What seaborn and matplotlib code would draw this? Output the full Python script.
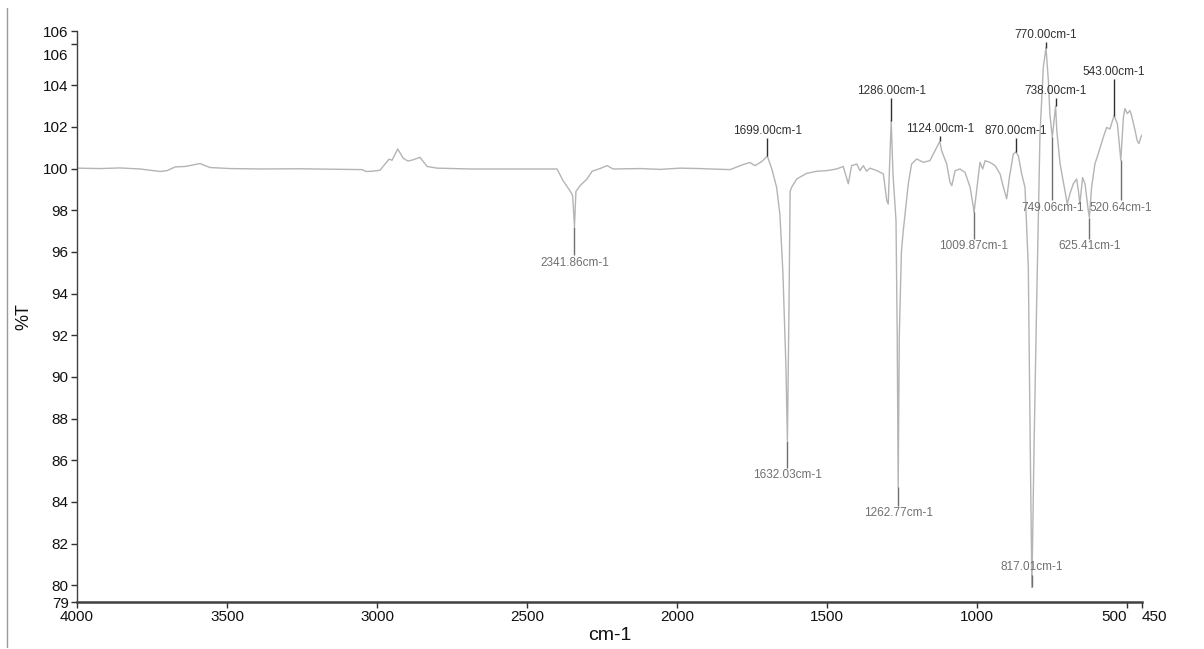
# FTIR spectrum, %T vs wavenumber, with peak picks
import matplotlib
matplotlib.use("Agg")
import matplotlib.pyplot as plt
from matplotlib.lines import Line2D
from matplotlib.transforms import ScaledTranslation
import seaborn as sns
import numpy as np

# spectrum (cm-1, %T)
wavenumber = [4000, 3923, 3857, 3790, 3747, 3723, 3700, 3673, 3640, 3590, 3557, 3490,
              3390, 3257, 3157, 3050, 3037, 3017, 2990, 2980, 2960, 2950, 2931, 2913,
              2897, 2880, 2857, 2833, 2800, 2690, 2557, 2400, 2380, 2357, 2348, 2341.86,
              2337, 2323, 2300, 2283, 2257, 2233, 2213, 2123, 2057, 1990, 1923, 1890,
              1823, 1780, 1757, 1740, 1717, 1699, 1684, 1668, 1657, 1647, 1637, 1632.03,
              1627, 1623, 1618, 1601, 1568, 1534, 1501, 1468, 1446, 1429, 1418, 1401,
              1390, 1379, 1368, 1357, 1334, 1312, 1301, 1296, 1286, 1280, 1270, 1266,
              1262.77, 1259, 1252, 1246, 1229, 1218, 1201, 1179, 1157, 1140, 1124, 1118,
              1101, 1090, 1084, 1073, 1057, 1040, 1023, 1012, 1009.87, 996, 990, 981,
              973, 957, 940, 923, 912, 901, 892, 879, 870, 862, 851, 840,
              829, 822, 817.01, 810, 801, 790, 779, 770, 762, 757, 749.06, 738,
              734, 723, 707, 699, 690, 679, 668, 662, 657, 648, 640, 629,
              625.41, 618, 607, 596, 579, 568, 557, 546, 543, 532, 520.64, 512,
              507, 499, 490, 484, 473, 466, 460, 454, 448]
transmittance = [100.02, 100.0, 100.03, 99.98, 99.9, 99.86, 99.9, 100.08, 100.1, 100.24, 100.05, 100.0,
                 99.98, 99.99, 99.97, 99.95, 99.86, 99.87, 99.92, 100.1, 100.45, 100.4, 100.94, 100.5,
                 100.36, 100.42, 100.54, 100.1, 100.02, 99.98, 99.98, 99.98, 99.42, 98.94, 98.7, 97.2,
                 98.9, 99.18, 99.5, 99.87, 100.0, 100.14, 99.98, 100.0, 99.96, 100.02, 100.0, 99.98,
                 99.95, 100.19, 100.29, 100.14, 100.34, 100.6, 99.98, 99.1, 97.8, 95.0, 90.5, 86.95,
                 93.0, 98.9, 99.1, 99.5, 99.77, 99.87, 99.9, 99.98, 100.1, 99.27, 100.14, 100.22,
                 99.9, 100.14, 99.87, 100.02, 99.9, 99.74, 98.47, 98.3, 102.3, 99.7, 97.5, 92.0,
                 84.7, 92.0, 96.0, 97.0, 99.27, 100.22, 100.46, 100.3, 100.38, 100.86, 101.3, 100.86,
                 100.22, 99.34, 99.18, 99.9, 99.98, 99.82, 99.1, 98.14, 97.9, 99.58, 100.3, 99.98,
                 100.38, 100.3, 100.14, 99.74, 99.1, 98.55, 99.58, 100.7, 100.8, 100.6, 99.74, 99.1,
                 95.3, 86.0, 79.9, 86.5, 93.7, 101.66, 104.86, 105.8, 104.2, 102.6, 101.5, 103.0,
                 101.82, 100.22, 98.94, 98.3, 98.8, 99.27, 99.5, 98.94, 98.3, 99.57, 99.27, 97.98,
                 97.65, 99.1, 100.22, 100.7, 101.5, 101.97, 101.9, 102.4, 102.54, 102.15, 100.4, 102.45,
                 102.88, 102.64, 102.78, 102.5, 101.82, 101.34, 101.2, 101.5, 101.66]

# picked maxima and minima
peaks_up = [1699.00, 1286.00, 1124.00, 870.00, 770.00, 738.00, 543.00]
peaks_down = [2341.86, 1632.03, 1262.77, 1009.87, 817.01, 749.06, 625.41, 520.64]

# where the pick labels sit (in %T)
label_y_up = [101.82, 103.74, 101.92, 101.82, 106.43, 103.74, 104.65]
label_y_down = [95.49, 85.28, 83.45, 96.26, 80.86, 98.13, 96.26, 98.13]

xticks = [4000, 3500, 3000, 2500, 2000, 1500, 1000, 500, 450]
yticks = [79.2, 80, 82, 84, 86, 88, 90, 92, 94, 96, 98, 100, 102, 104, 106, 106.6]
ytick_labels = ["79", "80", "82", "84", "86", "88", "90", "92", "94", "96", "98",
                "100", "102", "104", "106", "106"]

sns.set_style("ticks")
plt.rcParams['font.family'] = ['Liberation Sans', 'DejaVu Sans']

fig, ax = plt.subplots(figsize=(12.04, 6.49), dpi=100)
fig.subplots_adjust(left=0.064, right=0.9485, bottom=0.0724, top=0.9522)

sns.lineplot(x=wavenumber, y=transmittance, ax=ax, color='#b4b4b4', linewidth=1.0,
             estimator=None, sort=False)

ax.set_xlim(4000, 450)
ax.set_ylim(79.2, 106.6)

wn_sorted = np.array(wavenumber)[::-1]
t_sorted = np.array(transmittance)[::-1]


def peak_value(w):
    return float(np.interp(w, wn_sorted, t_sorted))


half = 0.36  # half text height in %T
for w, ly in zip(peaks_up, label_y_up):
    v = peak_value(w)
    ax.vlines(w, v, ly - half, color='#303030', linewidth=1.0)
    ax.text(w, ly, f'{w:.2f}cm-1', ha='center', va='center', fontsize=8.5, color='#303030')

for w, ly in zip(peaks_down, label_y_down):
    v = peak_value(w)
    if ly < v:
        ax.vlines(w, v, ly + half, color='#707070', linewidth=1.0)
    else:
        ax.vlines(w, v, ly - half, color='#707070', linewidth=1.0)
    ax.text(w, ly, f'{w:.2f}cm-1', ha='center', va='center', fontsize=8.5, color='#707070')

ax.set_xticks(xticks)
ax.set_xticklabels([str(t) for t in xticks])
ax.set_yticks(yticks)
ax.set_yticklabels(ytick_labels)
ax.tick_params(axis='both', labelsize=11, length=4, width=1, colors='#303030',
               labelcolor='#111111', pad=2)

# 500 and 450 sit close together: push them apart like the reference
xlabels = ax.get_xticklabels()
xlabels[-2].set_horizontalalignment('right')
xlabels[-1].set_horizontalalignment('left')

# the lower "106" label is pushed down in the reference
ylabels = ax.get_yticklabels()
ylabels[-2].set_transform(ylabels[-2].get_transform() +
                          ScaledTranslation(0, -8 / 72, fig.dpi_scale_trans))

ax.set_xlabel('cm-1', fontsize=14, color='#111111', labelpad=2)
ax.set_ylabel('%T', fontsize=13, color='#111111', labelpad=8)

sns.despine(ax=ax)
ax.spines['left'].set_color('#404040')
ax.spines['left'].set_linewidth(1.0)
ax.spines['bottom'].set_color('#404040')
ax.spines['bottom'].set_linewidth(1.8)

# thin border line at the far left of the window
fig.add_artist(Line2D([0.006, 0.006], [0.003, 0.988], color='#9a9a9a', linewidth=1.0))

fig.savefig('out.png', dpi=100)
